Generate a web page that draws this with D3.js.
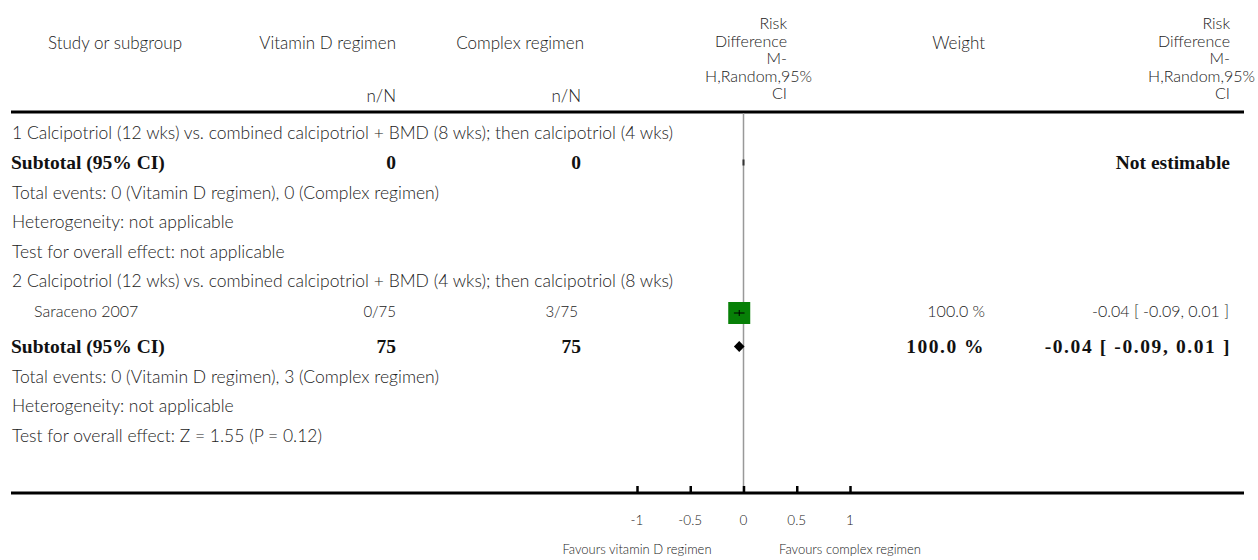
<!DOCTYPE html>
<html><head><meta charset="utf-8">
<script src="https://cdn.jsdelivr.net/npm/d3@7"></script>
<style>
html,body{margin:0;padding:0;background:#fff;}
svg{display:block;}
.reg{font-family:"Lato","Open Sans",sans-serif;font-weight:300;fill:#222;}
.bold{font-family:"Liberation Serif","DejaVu Serif",serif;font-weight:bold;fill:#111;}
</style></head>
<body>
<svg id="chart" width="1258" height="560"></svg>
<script>
// ---------- data ----------
const subgroupTitles = [
  "1 Calcipotriol (12 wks) vs. combined calcipotriol + BMD (8 wks); then calcipotriol (4 wks)",
  "2 Calcipotriol (12 wks) vs. combined calcipotriol + BMD (4 wks); then calcipotriol (8 wks)"
];
const studyNames = ["Saraceno 2007"];
const studyGroup = [1];
const studyVitD = ["0/75"];
const studyComplex = ["3/75"];
const studyWeight = ["100.0 %"];
const studyRD = [-0.04];
const studyLo = [-0.09];
const studyHi = [0.01];
const studyCIText = ["-0.04 [ -0.09, 0.01 ]"];

const subtotalVitD = [0, 75];
const subtotalComplex = [0, 75];
const subtotalWeight = ["", "100.0 %"];
const subtotalRD = [null, -0.04];
const subtotalLo = [null, -0.09];
const subtotalHi = [null, 0.01];
const subtotalCIText = ["Not estimable", "-0.04 [ -0.09, 0.01 ]"];
const totalEvents = [
  "Total events: 0 (Vitamin D regimen), 0 (Complex regimen)",
  "Total events: 0 (Vitamin D regimen), 3 (Complex regimen)"
];
const heterogeneity = ["Heterogeneity: not applicable", "Heterogeneity: not applicable"];
const overallEffect = ["Test for overall effect: not applicable", "Test for overall effect: Z = 1.55 (P = 0.12)"];

const axisTicks = [-1, -0.5, 0, 0.5, 1];
const axisTickLabels = ["-1", "-0.5", "0", "0.5", "1"];
const favoursLabels = ["Favours vitamin D regimen", "Favours complex regimen"];
const rdHeader = ["Risk", "Difference", "M-", "H,Random,95%", "CI"];

// ---------- layout ----------
const svg = d3.select("#chart");
const x = d3.scaleLinear().domain([-1, 1]).range([637, 850]);
const colStudy = 12, colStudyIndent = 34, colVit = 396, colComp = 581, colWeight = 985, colCI = 1229;
const lineLeft = 11, lineRight = 1244, topLineY = 112, axisY = 493;
const rowGap = 29.5;

const rows = [];
let y = 133;
subgroupTitles.forEach((t, g) => {
  rows.push({type: "title", text: t, y: y}); y += rowGap;
  studyNames.forEach((s, i) => {
    if (studyGroup[i] === g) { rows.push({type: "study", i: i, y: y}); y += rowGap + 6; }
  });
  rows.push({type: "subtotal", g: g, y: y}); y += rowGap + 1;
  rows.push({type: "note", text: totalEvents[g], y: y}); y += rowGap;
  rows.push({type: "note", text: heterogeneity[g], y: y}); y += rowGap;
  rows.push({type: "note", text: overallEffect[g], y: y}); y += rowGap;
});

function reg(sel, txt, xx, yy, anchor, size) {
  return sel.append("text").attr("class", "reg").attr("x", xx).attr("y", yy)
    .attr("text-anchor", anchor || "start").style("font-size", (size || 17) + "px").text(txt);
}

// ---------- header ----------
const H = svg.append("g");
reg(H, "Study or subgroup", 115, 49, "middle");
reg(H, "Vitamin D regimen", colVit, 49, "end");
reg(H, "n/N", colVit, 102, "end");
reg(H, "Complex regimen", colComp + 3, 49, "end");
reg(H, "n/N", colComp, 102, "end");
reg(H, "Weight", colWeight, 49, "end");
[787, 1230].forEach(rx => {
  rdHeader.forEach((t, k) => {
    reg(H, t, t.startsWith("H,") ? rx + 25 : rx, 29 + k * 17.5, "end", 16);
  });
});

svg.append("line").attr("x1", lineLeft).attr("x2", lineRight).attr("y1", topLineY).attr("y2", topLineY)
  .attr("stroke", "#000").attr("stroke-width", 3);

svg.append("line").attr("x1", x(0)).attr("x2", x(0)).attr("y1", topLineY + 1).attr("y2", axisY)
  .attr("stroke", "#999").attr("stroke-width", 1.5);

// ---------- rows ----------
const R = svg.append("g");
rows.forEach(r => {
  const by = r.y + 5.5;
  if (r.type === "title" || r.type === "note") {
    reg(R, r.text, colStudy, by, "start", 17.5);
  } else if (r.type === "study") {
    const i = r.i;
    reg(R, studyNames[i], colStudyIndent, by, "start", 16);
    reg(R, studyVitD[i], colVit, by, "end", 15);
    reg(R, studyComplex[i], colComp - 3, by, "end", 15);
    reg(R, studyWeight[i], colWeight, by, "end", 16);
    reg(R, studyCIText[i], colCI, by, "end", 16);
    const cy = r.y + 2, sz = 22;
    R.append("rect").attr("x", x(studyRD[i]) - sz / 2).attr("y", cy - sz / 2)
      .attr("width", sz).attr("height", sz).attr("fill", "#078007");
    R.append("line").attr("x1", x(studyLo[i])).attr("x2", x(studyHi[i])).attr("y1", cy).attr("y2", cy)
      .attr("stroke", "#000").attr("stroke-width", 1);
    R.append("line").attr("x1", x(studyRD[i])).attr("x2", x(studyRD[i])).attr("y1", cy - 3).attr("y2", cy + 3)
      .attr("stroke", "#000").attr("stroke-width", 1);
  } else if (r.type === "subtotal") {
    const g = r.g, bb = r.y + 6;
    const bt = (txt, xx, anchor, ls) => R.append("text").attr("class", "bold").attr("x", xx).attr("y", bb)
      .attr("text-anchor", anchor).style("font-size", "19.5px").style("letter-spacing", (ls || 0) + "px").text(txt);
    bt("Subtotal (95% CI)", colStudy - 1, "start");
    bt(String(subtotalVitD[g]), colVit, "end");
    bt(String(subtotalComplex[g]), colComp, "end");
    if (subtotalWeight[g]) bt(subtotalWeight[g], colWeight, "end", 1.5);
    const numeric = subtotalRD[g] !== null;
    bt(subtotalCIText[g], colCI + (numeric ? 2 : 1), "end", numeric ? 1.6 : 0);
    if (numeric) {
      const cy = r.y, hh = 5.5;
      const pts = [[x(subtotalLo[g]), cy], [x(subtotalRD[g]), cy - hh], [x(subtotalHi[g]), cy], [x(subtotalRD[g]), cy + hh]];
      R.append("path").attr("d", d3.line()(pts) + "Z").attr("fill", "#000");
    } else {
      R.append("line").attr("x1", x(0)).attr("x2", x(0)).attr("y1", r.y - 3).attr("y2", r.y + 3)
        .attr("stroke", "#333").attr("stroke-width", 2);
    }
  }
});

// ---------- axis ----------
const A = svg.append("g");
A.append("line").attr("x1", lineLeft).attr("x2", lineRight).attr("y1", axisY).attr("y2", axisY)
  .attr("stroke", "#000").attr("stroke-width", 3);
const axis = d3.axisTop(x).tickValues(axisTicks).tickSize(7).tickFormat("");
const ag = A.append("g").attr("transform", `translate(0,${axisY})`).call(axis);
ag.select(".domain").remove();
ag.selectAll(".tick line").attr("stroke", "#000").attr("stroke-width", 2.5);
axisTicks.forEach((t, k) => reg(A, axisTickLabels[k], x(t), 525, "middle", 13.5));
reg(A, favoursLabels[0], x(-1), 554, "middle", 13);
reg(A, favoursLabels[1], x(1), 554, "middle", 13);
</script>
</body></html>
